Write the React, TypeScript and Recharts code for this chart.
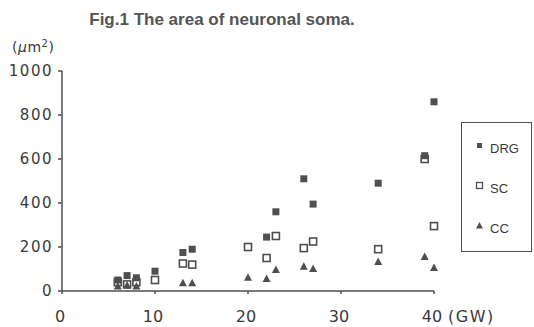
import React from 'react';
import { ScatterChart, Scatter, XAxis, YAxis, Legend } from 'recharts';

// gestational week vs. soma area (um^2)
const drgWeeks = [6, 7, 8, 10, 13, 14, 22, 23, 26, 27, 34, 39, 40];
const drgArea = [50, 70, 60, 90, 175, 190, 245, 360, 510, 395, 490, 615, 860];
const scWeeks = [6, 7, 8, 10, 13, 14, 20, 22, 23, 26, 27, 34, 39, 40];
const scArea = [40, 30, 40, 50, 125, 120, 200, 150, 250, 195, 225, 190, 600, 295];
const ccWeeks = [6, 7, 8, 13, 14, 20, 22, 23, 26, 27, 34, 39, 40];
const ccArea = [20, 25, 20, 35, 35, 60, 55, 95, 110, 100, 132, 155, 105];

const xTicks = [0, 10, 20, 30, 40];
const yTicks = [0, 200, 400, 600, 800, 1000];
const seriesNames = ['DRG', 'SC', 'CC'];

const zip = (xs: number[], ys: number[]) => xs.map((x, i) => ({ x, y: ys[i] }));
const drgData = zip(drgWeeks, drgArea);
const scData = zip(scWeeks, scArea);
const ccData = zip(ccWeeks, ccArea);

const INK = '#4f4f4f';
const TEXT = '#3a3a3a';
const TICK_FONT = "'DejaVu Sans', sans-serif";

const FilledSquare = ({ cx, cy }: any) => (
  <rect x={cx - 3.5} y={cy - 3.5} width={7} height={7} fill={INK} />
);
const OpenSquare = ({ cx, cy }: any) => (
  <rect x={cx - 3.5} y={cy - 3.5} width={7} height={7} fill="none" stroke={INK} strokeWidth={1.6} />
);
const Triangle = ({ cx, cy }: any) => (
  <polygon points={`${cx},${cy - 4.5} ${cx + 4},${cy + 3} ${cx - 4},${cy + 3}`} fill={INK} />
);

const XTick = ({ x, y, payload }: any) => (
  <g>
    <text x={x - 2} y={y} dy="0.71em" textAnchor="middle" fill={TEXT}
      fontFamily={TICK_FONT} fontSize={16}>{payload.value}</text>
    {payload.value === 40 && (
      <text x={x + 14} y={y} dy="0.71em" textAnchor="start" fill={TEXT}
        fontFamily={TICK_FONT} fontSize={16} letterSpacing={1.5}>(GW)</text>
    )}
  </g>
);

const YTick = ({ x, y, payload }: any) => (
  <text x={x + 1} y={y} dy="0.355em" textAnchor="end" fill={TEXT}
    fontFamily={TICK_FONT} fontSize={15} letterSpacing={1.5}>{payload.value}</text>
);

const legendIcons = [
  <rect key="a" x={2} y={2} width={5} height={5} fill={INK} />,
  <rect key="b" x={1.5} y={1.5} width={6} height={6} fill="none" stroke={INK} strokeWidth={1.3} />,
  <polygon key="c" points="4.5,1 8,7.5 1,7.5" fill={INK} />,
];

const LegendBox = () => (
  <div style={{ position: 'relative', width: 71, height: 130, boxSizing: 'border-box',
    border: `1.5px solid ${INK}`, background: '#fff' }}>
    {seriesNames.map((name, i) => (
      <div key={name} style={{ position: 'absolute', left: 13, top: 17 + i * 40,
        display: 'flex', alignItems: 'center', height: 16 }}>
        <svg width={9} height={9} style={{ marginTop: -5 }}>{legendIcons[i]}</svg>
        <span style={{ marginLeft: 6, fontFamily: "'Liberation Sans Narrow', 'Liberation Sans', sans-serif",
          fontSize: 13, color: TEXT }}>{name}</span>
      </div>
    ))}
  </div>
);

export default function App() {
  return (
    <div style={{ position: 'fixed', left: 0, top: 0, background: '#fff' }}>
      <ScatterChart width={534} height={327}
        margin={{ top: 71, right: 100, bottom: 0, left: 0 }}>
        <text x={222} y={25} textAnchor="middle" fill="#555" fontWeight="bold"
          fontFamily="'Liberation Sans', Arial, sans-serif" fontSize={17}>
          Fig.1 The area of neuronal soma.
        </text>
        <text x={12} y={52} fill={TEXT} fontFamily={TICK_FONT} fontSize={14} letterSpacing={0.5}>
          (<tspan fontStyle="italic">μ</tspan>m<tspan dy={-5} fontSize={10}>2</tspan><tspan dy={5}>)</tspan>
        </text>
        <XAxis type="number" dataKey="x" domain={[0, 40]} ticks={xTicks} height={36}
          stroke={INK} strokeWidth={1.5} tickSize={3} tickMargin={17} tick={<XTick />} />
        <YAxis type="number" dataKey="y" domain={[0, 1000]} ticks={yTicks} width={62}
          stroke={INK} strokeWidth={1.5} tickSize={4} tickMargin={6} tick={<YTick />} />
        <Legend layout="vertical" align="center" verticalAlign="middle"
          content={<LegendBox />}
          wrapperStyle={{ position: 'absolute', left: 461, top: 122, width: 71, height: 130 }} />
        <Scatter name="DRG" data={drgData} shape={<FilledSquare />} isAnimationActive={false} />
        <Scatter name="SC" data={scData} shape={<OpenSquare />} isAnimationActive={false} />
        <Scatter name="CC" data={ccData} shape={<Triangle />} isAnimationActive={false} />
      </ScatterChart>
    </div>
  );
}
